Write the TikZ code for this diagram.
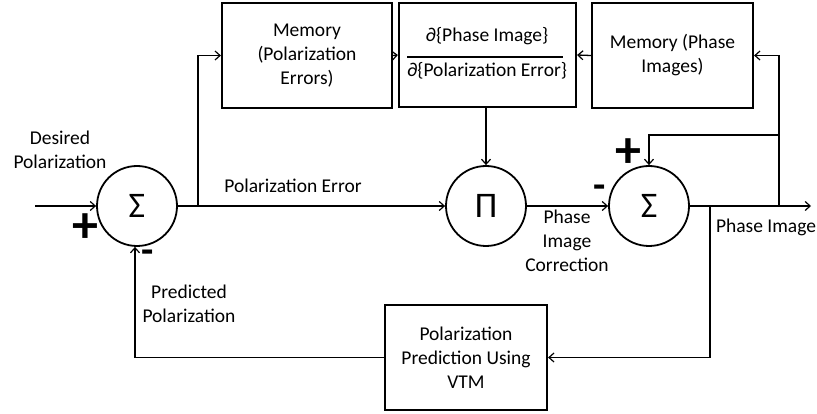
\documentclass[tikz,border=0pt]{standalone}
\usepackage{fontspec}
\setmainfont{Carlito}
\usetikzlibrary{arrows.meta}
\begin{document}
\begin{tikzpicture}[x=1pt,y=-1pt,
  every node/.style={font=\fontsize{19.5}{24}\selectfont},
  sumc/.style={draw,circle,line width=1.8pt,minimum size=80pt,inner sep=0pt,font=\fontsize{36}{38}\selectfont},
  blk/.style={draw,line width=2.2pt,inner sep=2pt,align=center},
  lbl/.style={align=center,inner sep=0pt},
  sgn/.style={inner sep=0pt,font=\fontsize{52}{52}\selectfont\bfseries},
  msgn/.style={inner sep=0pt,font=\fontsize{40}{40}\selectfont\bfseries},
  arr/.style={line width=1.3pt,-{Straight Barb[length=5pt,width=9pt,line width=1.2pt]}},
  ln/.style={line width=1.3pt}]
\useasboundingbox (0,0) rectangle (817,414);
% summing junctions
\node[sumc] (s1) at (137,206) {Σ};
\node[sumc] (pi) at (486,206) {Π};
\node[sumc] (s2) at (649,206) {Σ};
% blocks
\node[blk,minimum width=170pt,minimum height=105pt] (mpe) at (307,55.5) {Memory\\(Polarization\\Errors)};
\node[blk,minimum width=177pt,minimum height=104pt] (frac) at (487.5,55) {};
\node[lbl] (fnum) at (487,36) {∂\{Phase Image\}};
\node[lbl] (fden) at (487,71) {∂\{Polarization Error\}};
\coordinate (fl) at (407,57);
\coordinate (fr) at (563,57);
\draw[line width=1.2pt] (fl) -- (fr);
\node[blk,minimum width=161pt,minimum height=105pt] (mphi) at (672.5,55.5) {Memory (Phase\\Images)};
\node[blk,minimum width=162pt,minimum height=105pt] (vtm) at (466,357.5) {Polarization\\Prediction Using\\VTM};
% coordinates
\coordinate (in) at (35,206);
\coordinate (b1) at (198,206);
\coordinate (out) at (811,206);
\coordinate (b2) at (779,206);
\coordinate (b3) at (779,135);
\coordinate (b4) at (710,206);
\coordinate (b5) at (135,357.5);
\coordinate (fs) at (pi.north |- frac.south);
% connectors
\draw[arr] (in) -- (s1.west);
\draw[arr] (s1.east) -- (pi.west);
\draw[arr] (b1) |- (mpe.west);
\draw[arr] (mpe.east) -- (frac.west);
\draw[arr] (mphi.west) -- (frac.east);
\draw[arr] (fs) -- (pi.north);
\draw[arr] (pi.east) -- (s2.west);
\draw[arr] (s2.east) -- (out);
\draw[arr] (b2) |- (mphi.east);
\draw[arr] (b3) -| (s2.north);
\draw[arr] (b4) |- (vtm.east);
\draw[ln] (vtm.west) -- (b5);
\draw[arr] (b5) -- (b5 |- s1.south);
% labels
\node[lbl] (ldes) at (60,150) {Desired\\Polarization};
\node[lbl] (lpe) at (293,186) {Polarization Error};
\node[lbl] (lpic) at (567,241) {Phase\\Image\\Correction};
\node[lbl] (lpi) at (766,227) {Phase Image};
\node[lbl] (lpp) at (189,304) {Predicted\\Polarization};
% signs
\node[sgn] (p1) at (85,228) {+};
\node[sgn] (p2) at (628,153) {+};
\node[msgn] (m1) at (600,192) {-};
\node[msgn] (m2) at (148,257) {-};
\end{tikzpicture}
\end{document}
